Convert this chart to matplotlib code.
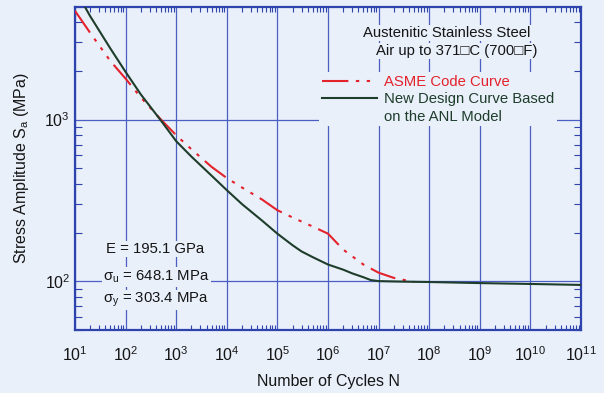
import matplotlib
matplotlib.use("Agg")
import matplotlib.pyplot as plt
from matplotlib.lines import Line2D
from matplotlib.ticker import LogLocator, LogFormatterSciNotation, NullFormatter

plt.rcParams["font.family"] = ["Liberation Sans", "DejaVu Sans"]
plt.rcParams["mathtext.default"] = "regular"
plt.rcParams["lines.scale_dashes"] = False

# ASME Code design curve (austenitic stainless steel), stress amplitude in MPa
asme_cycles = [1e1, 2e1, 5e1, 1e2, 2e2, 5e2, 1e3, 2e3, 5e3, 1e4, 2e4, 5e4,
               1e5, 2e5, 5e5, 1e6, 2e6, 5e6, 1e7, 2e7, 5e7]
asme_stress = [4700, 3430, 2300, 1790, 1370, 1000, 800, 655, 510, 435, 380, 320,
               275, 248, 218, 197, 157, 127, 113, 105, 99]

# New design curve based on the ANL model
anl_cycles = [1e1, 2e1, 5e1, 1e2, 2e2, 5e2, 1e3, 2e3, 5e3, 1e4, 2e4, 5e4,
              1e5, 2e5, 3e5, 5e5, 1e6, 2e6, 3e6, 5e6, 7e6, 1e7, 2e7, 5e7,
              1e8, 1e9, 1e10, 1e11]
anl_stress = [6400, 4350, 2750, 1970, 1430, 985, 735, 590, 450, 366, 300, 237,
              197, 167, 153, 141, 127, 118, 112, 106, 101.8, 100.3, 99.8, 99.3,
              99, 97.5, 96.3, 95]

x_decades = list(range(1, 12))
y_decades = [2, 3]
legend_labels = ["ASME Code Curve", "New Design Curve Based", "on the ANL Model"]
material_lines = ["Austenitic Stainless Steel", "Air up to 371\u25a1C (700\u25a1F)"]
property_lines = ["E = 195.1 GPa", "\u03c3$_{u}$ = 648.1 MPa", "\u03c3$_{y}$ = 303.4 MPa"]

BG = "#e9f0fa"
FRAME = "#2f43ad"
GRID = "#4a5ec4"
RED = "#e4222c"
GREEN = "#1e3d2b"
TXT = "#151515"

W, H = 604, 393
fig = plt.figure(figsize=(W / 100, H / 100), dpi=100, facecolor=BG)
L, R, T, B = 75, 581, 6.5, 330
ax = fig.add_axes([L / W, 1 - B / H, (R - L) / W, (B - T) / H], facecolor=BG)

ax.set_xscale("log")
ax.set_yscale("log")
ax.set_xlim(10, 1e11)
ax.set_ylim(50, 5000)

ax.set_xticks([10.0 ** k for k in x_decades])
ax.set_yticks([10.0 ** k for k in y_decades])
ax.xaxis.set_major_formatter(LogFormatterSciNotation())
ax.yaxis.set_major_formatter(LogFormatterSciNotation())
ax.xaxis.set_minor_locator(LogLocator(base=10, subs=range(2, 10), numticks=200))
ax.yaxis.set_minor_locator(LogLocator(base=10, subs=range(2, 10), numticks=200))
ax.xaxis.set_minor_formatter(NullFormatter())
ax.yaxis.set_minor_formatter(NullFormatter())

ax.grid(True, which="major", color=GRID, linewidth=0.9, zorder=1)
ax.set_axisbelow(True)

for s in ax.spines.values():
    s.set_color(FRAME)
    s.set_linewidth(1.6)

ax.tick_params(which="both", direction="in", top=True, right=True,
               color=FRAME, width=0.8, labelcolor=TXT, labelsize=11.5)
ax.tick_params(axis="x", which="major", length=0, pad=11)
ax.tick_params(axis="y", which="major", length=0, pad=3.5)
ax.tick_params(axis="x", which="minor", length=3.5)
ax.tick_params(axis="y", which="minor", length=5)

asme_dashes = (19, 5.4, 2.4, 5.4, 2.4, 5.4, 2.4, 5.4)
ax.plot(asme_cycles, asme_stress, color=RED, linewidth=1.5, dashes=asme_dashes, zorder=3)
ax.plot(anl_cycles, anl_stress, color=GREEN, linewidth=1.5, zorder=4)

ax.set_xlabel("Number of Cycles N", fontsize=11.5, color=TXT)
ax.set_ylabel("Stress Amplitude S$_{a}$ (MPa)", fontsize=11.5, color=TXT)
ax.xaxis.set_label_coords(0.5, (B - 374) / (B - T))
ax.yaxis.set_label_coords((31 - L) / (R - L), 0.5)


def axfrac(px, py):
    return (px - L) / (R - L), (B - py) / (B - T)


box = dict(facecolor=BG, edgecolor="none", pad=1.0)
for (px, py), s in zip([(363, 33), (376, 51)], material_lines):
    ax.text(*axfrac(px, py), s, transform=ax.transAxes, fontsize=10.7, color=TXT,
            ha="left", va="center", bbox=box, zorder=6)

for (px, py), s in zip([(106, 249), (103, 277), (103, 300)], property_lines):
    ax.text(*axfrac(px, py), s, transform=ax.transAxes, fontsize=10.7, color=TXT,
            ha="left", va="center", bbox=box, zorder=6)

handles = [Line2D([], [], color=RED, linewidth=1.5, dashes=asme_dashes),
           Line2D([], [], color=GREEN, linewidth=1.5),
           Line2D([], [], color="none")]
leg = ax.legend(handles, legend_labels, loc="upper left",
                bbox_to_anchor=axfrac(319, 72), bbox_transform=ax.transAxes,
                frameon=True, facecolor=BG, edgecolor="none", framealpha=1,
                fancybox=False, fontsize=10.7, handlelength=3.7,
                handletextpad=0.45, labelspacing=0.22, borderpad=0.2,
                borderaxespad=0)
leg.set_zorder(6)
for t, c in zip(leg.get_texts(), [RED, GREEN, GREEN]):
    t.set_color(c)

fig.savefig("out.png", dpi=100, facecolor=BG)
